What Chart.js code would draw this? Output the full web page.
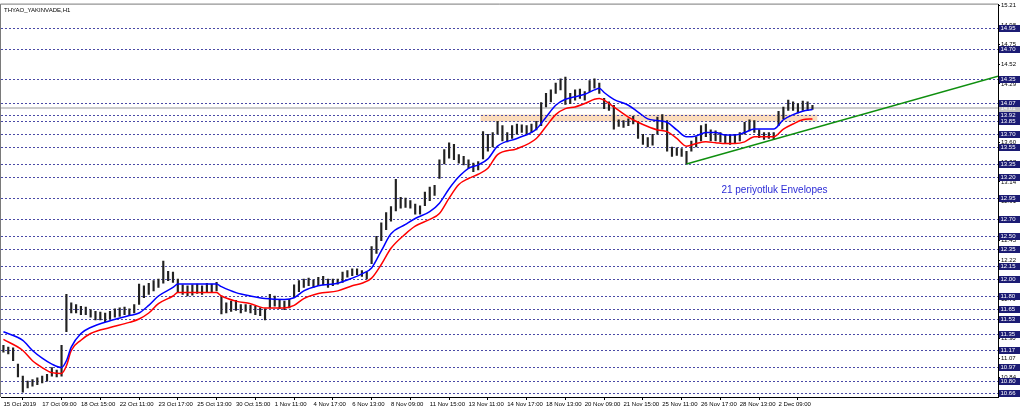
<!DOCTYPE html>
<html>
<head>
<meta charset="utf-8">
<script src="https://cdn.jsdelivr.net/npm/chart.js@4.4.0/dist/chart.umd.min.js"></script>
<style>
  html, body { margin: 0; padding: 0; background: #fff; }
  #wrap { position: relative; width: 1024px; height: 411px; }
</style>
</head>
<body>
<div id="wrap"><canvas id="chart"></canvas></div>
<script>
// bar ranges (one bar = 2 hourly bars of THYAO)
const lows = [11.14,11.12,11.04,10.85,10.67,10.72,10.74,10.76,10.78,10.80,10.86,10.85,10.86,11.38,11.60,11.60,11.58,11.58,11.55,11.52,
  11.52,11.50,11.53,11.55,11.56,11.58,11.57,11.60,11.70,11.78,11.82,11.86,11.90,11.95,11.98,11.96,11.84,11.82,11.80,11.81,
  11.83,11.82,11.84,11.85,11.86,11.59,11.60,11.62,11.63,11.60,11.62,11.60,11.58,11.57,11.52,11.66,11.68,11.65,11.64,11.66,
  11.78,11.85,11.90,11.92,11.90,11.92,11.93,11.90,11.92,11.94,11.96,12.02,12.04,12.05,12.03,12.00,12.18,12.30,12.45,12.58,
  12.68,12.80,12.83,12.84,12.83,12.76,12.76,12.86,12.92,12.98,13.18,13.35,13.42,13.40,13.36,13.34,13.30,13.26,13.28,13.41,
  13.50,13.55,13.70,13.62,13.61,13.65,13.70,13.72,13.70,13.72,13.75,13.80,14.02,14.08,14.18,14.22,14.05,14.06,14.10,14.12,
  14.10,14.20,14.24,14.18,14.00,13.98,13.76,13.79,13.78,13.80,13.82,13.65,13.58,13.55,13.57,13.70,13.76,13.50,13.44,13.45,
  13.44,13.35,13.50,13.55,13.62,13.67,13.62,13.62,13.61,13.60,13.58,13.60,13.62,13.70,13.74,13.72,13.66,13.64,13.65,13.64,
  13.80,13.88,13.98,13.98,13.95,13.98,13.98,13.99];
const highs = [11.22,11.20,11.19,11.00,10.86,10.80,10.82,10.84,10.86,10.88,10.96,10.93,11.22,11.82,11.72,11.70,11.68,11.67,11.64,11.62,
  11.61,11.60,11.62,11.65,11.66,11.67,11.65,11.70,11.94,11.92,11.95,11.98,12.00,12.21,12.09,12.08,12.00,11.93,11.92,11.93,
  11.94,11.92,11.95,11.94,11.96,11.80,11.72,11.74,11.75,11.70,11.70,11.69,11.68,11.66,11.65,11.82,11.80,11.75,11.74,11.76,
  11.93,11.98,12.00,12.01,11.99,12.02,12.03,12.00,12.00,12.00,12.08,12.10,12.12,12.12,12.10,12.08,12.38,12.50,12.66,12.78,
  12.85,13.17,12.96,12.95,12.92,12.88,12.86,13.02,13.08,13.10,13.40,13.52,13.60,13.58,13.46,13.44,13.40,13.36,13.38,13.73,
  13.70,13.72,13.85,13.80,13.72,13.80,13.82,13.81,13.80,13.82,13.85,14.07,14.18,14.22,14.30,14.35,14.37,14.18,14.22,14.23,
  14.20,14.33,14.35,14.30,14.12,14.08,14.04,13.87,13.86,13.88,13.91,13.85,13.70,13.66,13.70,13.90,13.93,13.86,13.55,13.54,
  13.53,13.50,13.62,13.67,13.80,13.82,13.75,13.74,13.72,13.70,13.69,13.70,13.72,13.84,13.87,13.86,13.75,13.72,13.72,13.72,
  13.97,14.02,14.10,14.08,14.06,14.09,14.08,14.04];

// 21 period envelopes, sampled at these bar numbers
const envIdx = [0,4,6,8,10,12,13,14,16,18,22,26,28,30,32,35,36,44,45,48,51,54,58,60,62,65,69,72,74,76,78,80,83,85,88,90,
  92,94,96,98,100,102,106,110,112,114,116,118,120,122,123,124,126,129,131,133,135,137,139,141,143,145,147,149,151,153,155,159,161,163,165,167];
const envUpper = [11.38,11.28,11.16,11.07,11.00,10.96,11.04,11.20,11.36,11.43,11.51,11.57,11.60,11.69,11.80,11.90,11.94,11.94,11.91,11.84,11.80,11.77,11.76,11.78,11.86,11.92,11.95,12.01,12.06,12.13,12.33,12.53,12.64,12.71,12.79,12.89,
  13.06,13.20,13.30,13.34,13.41,13.56,13.65,13.76,13.90,14.04,14.11,14.14,14.17,14.22,14.24,14.19,14.11,14.04,13.96,13.88,13.86,13.84,13.75,13.67,13.68,13.72,13.72,13.69,13.69,13.72,13.76,13.76,13.87,13.93,13.97,13.99];
const envLower = [11.29,11.16,11.04,10.96,10.90,10.89,10.98,11.16,11.28,11.36,11.43,11.49,11.53,11.60,11.71,11.80,11.84,11.84,11.80,11.74,11.71,11.66,11.66,11.69,11.77,11.83,11.86,11.92,11.95,12.01,12.17,12.36,12.53,12.62,12.70,12.77,
  12.95,13.11,13.18,13.23,13.30,13.46,13.53,13.65,13.79,13.93,14.00,14.02,14.06,14.11,14.12,14.10,14.02,13.90,13.84,13.79,13.75,13.73,13.65,13.56,13.59,13.61,13.60,13.59,13.59,13.61,13.67,13.67,13.76,13.82,13.87,13.88];

// trend line and resistance zone
const trendIdx = [141, 205.3];
const trendVal = [13.35, 14.38];
const zoneIdx = [98.5, 168];
const zoneVal = [13.85, 13.93];

// horizontal levels drawn on the chart
const levels = [14.95,14.70,14.35,14.07,13.92,13.85,13.70,13.55,13.35,13.20,12.95,12.70,12.50,12.35,12.15,12.00,11.80,11.65,11.53,11.35,11.17,10.97,10.80,10.66];
const lastPrice = 14.01;

// axis ticks
const yTicks = [15.21,14.98,14.75,14.52,14.29,14.06,13.83,13.60,13.37,13.14,12.91,12.68,12.45,12.22,11.99,11.76,11.53,11.30,11.07,10.84];
const xTickIdx = [0,8,16,24,32,40,48,56,64,72,80,88,96,104,112,120,128,136,144,152,160];
const xLabels = ['15 Oct 2019','17 Oct 09:00','18 Oct 15:00','22 Oct 11:00','23 Oct 17:00','25 Oct 13:00','30 Oct 15:00',
  '1 Nov 11:00','4 Nov 17:00','6 Nov 13:00','8 Nov 09:00','11 Nov 15:00','13 Nov 11:00','14 Nov 17:00','18 Nov 13:00',
  '20 Nov 09:00','21 Nov 15:00','25 Nov 11:00','26 Nov 17:00','28 Nov 13:00','2 Dec 09:00'];

const FONT = '"Liberation Sans", Arial, sans-serif';

const decor = {
  id: 'decor',
  beforeDatasetsDraw(chart) {
    const { ctx, chartArea: a, scales: { x, y } } = chart;
    ctx.save();
    // zone
    const zx0 = x.getPixelForValue(zoneIdx[0]), zx1 = x.getPixelForValue(zoneIdx[1]);
    const zy0 = y.getPixelForValue(zoneVal[1]), zy1 = y.getPixelForValue(zoneVal[0]);
    ctx.fillStyle = '#fbdcbc';
    ctx.fillRect(zx0, zy0, zx1 - zx0, zy1 - zy0);
    // dashed levels
    ctx.strokeStyle = '#4a4aa6';
    ctx.lineWidth = 1;
    ctx.setLineDash([2, 2]);
    levels.forEach(v => {
      const py = Math.round(y.getPixelForValue(v)) + 0.5;
      ctx.beginPath();
      ctx.moveTo(a.left, py);
      ctx.lineTo(a.right, py);
      ctx.stroke();
    });
    // bid line
    ctx.setLineDash([]);
    ctx.strokeStyle = '#cccccc';
    ctx.lineWidth = 2;
    const bp = Math.round(y.getPixelForValue(lastPrice));
    ctx.beginPath();
    ctx.moveTo(a.left, bp);
    ctx.lineTo(a.right, bp);
    ctx.stroke();
    ctx.restore();
  },
  afterDraw(chart) {
    const { ctx, chartArea: a, scales: { x, y } } = chart;
    ctx.save();
    // frame left / top
    ctx.strokeStyle = '#7a7a7a';
    ctx.lineWidth = 1;
    ctx.beginPath();
    ctx.moveTo(a.left - 0.5, a.bottom);
    ctx.lineTo(a.left - 0.5, a.top - 0.5);
    ctx.lineTo(a.right, a.top - 0.5);
    ctx.stroke();

    // title
    ctx.fillStyle = '#000';
    ctx.font = '6px ' + FONT;
    ctx.textBaseline = 'top';
    ctx.textAlign = 'left';
    ctx.fillText('THYAO_YAKINVADE,H1', a.left + 3, a.top + 3);

    // note
    ctx.fillStyle = '#2b2bd6';
    ctx.font = '10px ' + FONT;
    ctx.textBaseline = 'middle';
    ctx.fillText('21 periyotluk Envelopes', x.getPixelForValue(148.2), y.getPixelForValue(13.04));

    // level labels
    ctx.font = '6px ' + FONT;
    const box = (v, bg) => {
      const py = Math.round(y.getPixelForValue(v));
      ctx.fillStyle = bg;
      ctx.fillRect(a.right + 1, py - 3, 21, 7);
      ctx.fillStyle = '#fff';
      ctx.fillText(v.toFixed(2), a.right + 2.5, py + 0.5);
    };
    box(lastPrice, '#c4c4c4');
    levels.forEach(v => box(v, '#1c1c74'));
    ctx.restore();
  }
};

new Chart(document.getElementById('chart'), {
  type: 'bar',
  data: {
    datasets: [
      {
        type: 'line',
        data: envIdx.map((i, k) => ({ x: i, y: envUpper[k] })),
        borderColor: '#0000ff',
        borderWidth: 1.5,
        pointRadius: 0,
        cubicInterpolationMode: 'monotone',
        order: 1
      },
      {
        type: 'line',
        data: envIdx.map((i, k) => ({ x: i, y: envLower[k] })),
        borderColor: '#ff0000',
        borderWidth: 1.5,
        pointRadius: 0,
        cubicInterpolationMode: 'monotone',
        order: 1
      },
      {
        type: 'line',
        data: trendIdx.map((i, k) => ({ x: i, y: trendVal[k] })),
        borderColor: '#0f8f0f',
        borderWidth: 1.5,
        pointRadius: 0,
        order: 0
      },
      {
        type: 'bar',
        data: lows.map((lo, i) => ({ x: i, y: [lo, highs[i]] })),
        backgroundColor: '#222',
        barThickness: 1.5,
        borderWidth: 0,
        order: 3
      }
    ]
  },
  options: {
    responsive: true,
    maintainAspectRatio: false,
    animation: false,
    devicePixelRatio: 1,
    layout: { padding: { left: 1, top: 1, right: 0, bottom: 0 } },
    plugins: { legend: { display: false }, tooltip: { enabled: false } },
    scales: {
      x: {
        type: 'linear',
        min: -0.5,
        max: 205.3,
        offset: false,
        afterBuildTicks: s => { s.ticks = xTickIdx.map(v => ({ value: v })); },
        afterFit: s => { s.height = 14; },
        ticks: {
          callback: (v, i) => xLabels[i],
          autoSkip: false,
          maxRotation: 0,
          align: 'start',
          padding: 1,
          color: '#000',
          font: { size: 6, family: FONT }
        },
        grid: { drawOnChartArea: false, drawTicks: true, tickLength: 3, color: '#000' },
        border: { color: '#000' }
      },
      y: {
        type: 'linear',
        position: 'right',
        min: 10.614,
        max: 15.222,
        afterBuildTicks: s => { s.ticks = yTicks.map(v => ({ value: v })); },
        afterFit: s => { s.width = 26; },
        ticks: {
          callback: v => v.toFixed(2),
          autoSkip: false,
          padding: 1,
          color: '#000',
          font: { size: 6, family: FONT }
        },
        grid: { drawOnChartArea: false, drawTicks: true, tickLength: 2, color: '#000' },
        border: { color: '#000' }
      }
    }
  },
  plugins: [decor]
});
</script>
</body>
</html>
